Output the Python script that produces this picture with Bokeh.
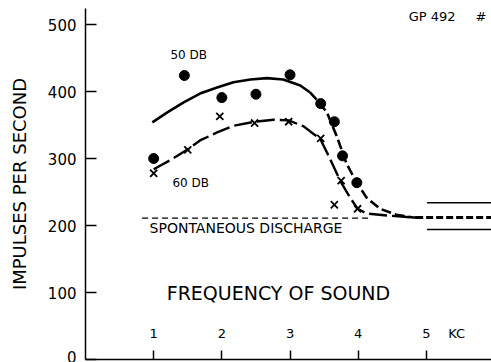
from bokeh.plotting import figure
from bokeh.models import Range1d, FixedTicker
from bokeh.core.properties import value
from bokeh.embed import file_html
from bokeh.resources import INLINE

# 50 DB measurements (dots)
db50_x = [1.0, 1.45, 2.0, 2.5, 3.0, 3.45, 3.65, 3.77, 3.98]
db50_y = [300, 424, 391, 396, 425, 382, 355, 304, 264]
# 60 DB measurements (crosses)
db60_x = [1.0, 1.5, 1.97, 2.48, 2.98, 3.45, 3.65, 3.75, 3.99]
db60_y = [278, 313, 363, 353, 355, 330, 231, 267, 225]

# fitted curve for 50 DB (solid part, then dashed part)
c50s_x = [0.98, 1.20, 1.44, 1.68, 1.93, 2.17, 2.42, 2.66, 2.90, 3.15, 3.29]
c50s_y = [354, 369, 384, 397, 406, 414, 418, 420, 418, 409, 399]
c50d_x = [3.29, 3.40, 3.54, 3.69, 3.83, 3.98, 4.12, 4.32, 4.56, 4.81, 4.95]
c50d_y = [399, 387, 369, 332, 292, 264, 242, 225, 216, 212, 212]

# fitted curve for 60 DB
c60_x = [1.0, 1.25, 1.49, 1.68, 1.93, 2.17, 2.48, 2.76, 2.98, 3.2, 3.34,
         3.44, 3.59, 3.74, 3.88, 3.99, 4.12, 4.42, 4.81, 4.95]
c60_y = [284, 298, 313, 327, 339, 349, 355, 358, 357, 348, 337,
         330, 299, 266, 242, 225, 218, 215, 212, 212]

# spontaneous discharge
spont_x = [0.83, 4.17]
spont_y = [211, 211]
band_x = [5.01, 5.96]
band_mean_x = [4.85, 5.96]
band_mean = 212
band_hi = 234
band_lo = 194

x_ticks = [1, 2, 3, 4, 5]
y_ticks = [0, 100, 200, 300, 400, 500]

FONT = "DejaVu Sans"

p = figure(width=491, height=362, x_range=Range1d(0, 5.955), y_range=Range1d(0, 524),
           output_backend="svg", toolbar_location=None,
           min_border_left=85, min_border_top=8, min_border_bottom=3, min_border_right=0)
p.outline_line_color = None
p.grid.visible = False
p.background_fill_color = "white"
p.border_fill_color = "white"

# axes
xa = p.xaxis[0]
xa.ticker = FixedTicker(ticks=x_ticks)
xa.major_tick_in = 9
xa.major_tick_out = 0
xa.minor_tick_line_color = None
xa.major_label_text_font = FONT
xa.major_label_text_font_size = "13px"
xa.major_label_text_color = "black"
xa.major_label_standoff = -31
xa.axis_line_width = 1.5
xa.major_tick_line_width = 1.5
xa.axis_line_color = "black"
xa.major_tick_line_color = "black"

ya = p.yaxis[0]
ya.ticker = FixedTicker(ticks=y_ticks)
ya.major_tick_in = 11
ya.major_tick_out = 0
ya.minor_tick_line_color = None
ya.major_label_text_font = FONT
ya.major_label_text_font_size = "15px"
ya.major_label_text_color = "black"
ya.major_label_standoff = 9
ya.axis_line_width = 1.5
ya.major_tick_line_width = 1.5
ya.axis_line_color = "black"
ya.major_tick_line_color = "black"
ya.axis_label = "IMPULSES PER SECOND"
ya.axis_label_text_font = FONT
ya.axis_label_text_font_size = "18px"
ya.axis_label_text_font_style = "normal"
ya.axis_label_text_color = "black"
ya.axis_label_standoff = 15

# spontaneous discharge
p.line(spont_x, spont_y, line_color="black", line_width=1.3, line_dash="6 4")
p.line(band_mean_x, [band_mean] * 2, line_color="black", line_width=2.8, line_dash="7 3")
p.line(band_x, [band_hi] * 2, line_color="black", line_width=1.5)
p.line(band_x, [band_lo] * 2, line_color="black", line_width=1.5)

# curves
p.line(c50s_x, c50s_y, line_color="black", line_width=2.6)
p.line(c50d_x, c50d_y, line_color="black", line_width=2.6, line_dash="10 4")
p.line(c60_x, c60_y, line_color="black", line_width=2.4, line_dash="18 5")

# points
p.scatter(db50_x, db50_y, marker="circle", size=10, fill_color="black", line_color="black")
p.scatter(db60_x, db60_y, marker="x", size=10, line_color="black", line_width=1.8)

# texts
def txt(x, y, s, size, align="left"):
    p.text([x], [y], text=[s], text_font=value(FONT), text_font_size=size,
           text_align=align, text_baseline="middle", text_color="black")

txt(1.245, 455, "50 DB", "12px")
txt(1.275, 263, "60 DB", "12px")
txt(0.94, 197, "SPONTANEOUS DISCHARGE", "14px")
txt(2.83, 99.5, "FREQUENCY OF SOUND", "19px", "center")
txt(4.74, 512, "GP 492", "13px")
txt(5.72, 512, "#", "13px")
txt(5.32, 39, "KC", "13px")

open("out.html", "w").write(file_html(p, INLINE))
